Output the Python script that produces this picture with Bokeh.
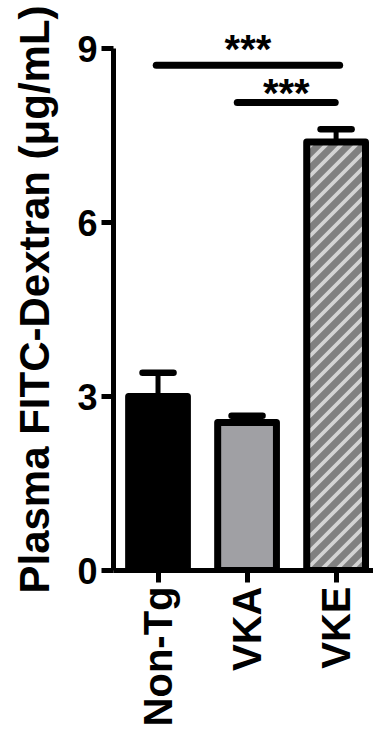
import math
from bokeh.plotting import figure
from bokeh.models import Range1d, FixedTicker, Whisker, TeeHead, ColumnDataSource
from bokeh.core.properties import value
from bokeh.embed import file_html
from bokeh.resources import INLINE

# ---- data ----
groups = ["Non-Tg", "VKA", "VKE"]
means = [3.0, 2.55, 7.39]
sems = [0.41, 0.12, 0.22]
fills = ["#000000", "#a0a0a4", "#808080"]
hatched = [False, False, True]
y_ticks = [0, 3, 6, 9]
sig_start = [0.48, 1.39]
sig_end = [2.54, 2.49]
sig_level = [8.71, 8.07]
sig_text = ["***", "***"]
sig_text_y = [8.99, 8.23]

FONT = "Liberation Sans"

# ---- layout (pixels) ----
W, H = 373, 740
BL, BR, BT, BB = 113, 0, 28, 170
X_END, Y_END = 2.92, 9.345
BAR_W = 0.66
STRIPE_PERIOD_PX = 15.0

xpos = [i + 0.5 for i in range(len(groups))]
upper = [m + s for m, s in zip(means, sems)]

p = figure(width=W, height=H, output_backend="svg", toolbar_location=None,
           x_range=Range1d(0, X_END), y_range=Range1d(0, Y_END),
           min_border_left=BL, min_border_right=BR, min_border_top=BT,
           min_border_bottom=BB)
p.outline_line_color = None
p.grid.visible = False
p.background_fill_color = "white"

# bar fills
src = ColumnDataSource(dict(x=xpos, top=means, fill=fills))
p.vbar(x="x", top="top", width=BAR_W, bottom=0, source=src,
       fill_color="fill", line_color=None)

# 45-degree stripes (in screen space) for hatched bars, clipped to the bar
px_x = (W - BL - BR) / X_END
px_y = (H - BT - BB) / Y_END
slope = px_x / px_y             # data dy per data dx for a 45deg screen line
period = STRIPE_PERIOD_PX / px_y  # vertical period in data units
sx0, sy0, sx1, sy1 = [], [], [], []
for xc, top, h in zip(xpos, means, hatched):
    if not h:
        continue
    xl, xr = xc - BAR_W / 2, xc + BAR_W / 2
    b = -slope * (xr - xl)
    while b < top:
        xs = xl + max(0.0, (0 - b) / slope)
        xe = xl + min(xr - xl, (top - b) / slope)
        if xe > xs:
            sx0.append(xs); sy0.append(b + slope * (xs - xl))
            sx1.append(xe); sy1.append(b + slope * (xe - xl))
        b += period
p.segment(x0=sx0, y0=sy0, x1=sx1, y1=sy1, line_color="#d4d4d4",
          line_width=3.8, line_cap="butt")

# bar outlines
p.vbar(x="x", top="top", width=BAR_W, bottom=0, source=src,
       fill_color=None, line_color="black", line_width=7, line_join="round")

# error bars
err_src = ColumnDataSource(dict(base=xpos, lower=means, upper=upper))
w = Whisker(source=err_src, base="base", lower="lower", upper="upper",
            dimension="height", line_width=5, line_color="black",
            upper_head=TeeHead(size=31, line_width=6.5, line_color="black", line_cap="round"),
            lower_head=None, level="overlay")
p.add_layout(w)

# significance lines and stars
sig_src = ColumnDataSource(dict(x0=sig_start, x1=sig_end, y=sig_level,
                                tx=[(a + b) / 2 for a, b in zip(sig_start, sig_end)],
                                ty=sig_text_y, t=sig_text))
p.segment(x0="x0", y0="y", x1="x1", y1="y", source=sig_src,
          line_width=7, line_color="black", line_cap="round")
p.text(x="tx", y="ty", text="t", source=sig_src, text_font=value(FONT),
       text_font_style="bold", text_font_size="40px", text_align="center",
       text_baseline="alphabetic", text_color="black")

# axes
p.yaxis.ticker = FixedTicker(ticks=y_ticks)
p.yaxis.bounds = (0, 9)
p.yaxis.axis_label = "Plasma FITC-Dextran (\u03bcg/mL)"
p.yaxis.axis_label_text_font = FONT
p.yaxis.axis_label_text_font_style = "bold"
p.yaxis.axis_label_text_font_size = "42px"
p.yaxis.axis_label_text_color = "black"
p.yaxis.axis_label_standoff = 16

p.xaxis.ticker = FixedTicker(ticks=xpos)
p.xaxis.major_label_overrides = {x: g for x, g in zip(xpos, groups)}
p.xaxis.major_label_orientation = math.pi / 2

for ax in (p.xaxis, p.yaxis):
    ax.axis_line_width = 5
    ax.axis_line_color = "black"
    ax.major_tick_line_width = 5
    ax.major_tick_line_color = "black"
    ax.major_tick_out = 12
    ax.major_tick_in = 0
    ax.minor_tick_line_color = None
    ax.major_label_text_font = FONT
    ax.major_label_text_font_style = "bold"
    ax.major_label_text_color = "black"
    ax.major_label_standoff = 4

p.yaxis.major_label_text_font_size = "36px"
p.xaxis.major_label_text_font_size = "40px"

open("out.html", "w").write(file_html(p, INLINE))
